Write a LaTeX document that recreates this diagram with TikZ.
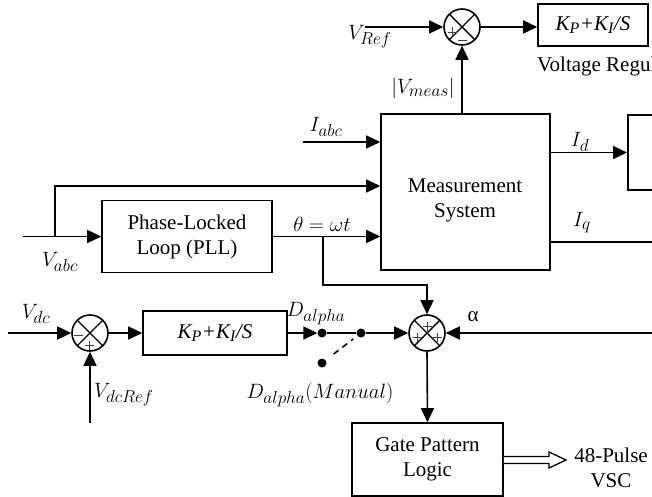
\documentclass[tikz,border=0pt]{standalone}
\usepackage{fontspec}
\setmainfont{Liberation Serif}
\DeclareMathSizes{21}{21}{16}{12}
\usetikzlibrary{arrows.meta,calc}
\begin{document}
\begin{tikzpicture}[x=1pt,y=-1pt,
  every node/.style={font=\fontsize{21}{25}\selectfont},
  ln/.style={line width=1.6pt},
  arr/.style={line width=1.6pt,-{Triangle[length=14pt,width=13pt]}},
  blk/.style={draw,line width=1.6pt,inner sep=0pt,align=center},
  sumc/.style={draw,circle,line width=1.6pt,minimum size=36pt,inner sep=0pt,
    path picture={\draw[line width=1.4pt] (path picture bounding box.north west)--(path picture bounding box.south east)
      (path picture bounding box.north east)--(path picture bounding box.south west);}},
  dotn/.style={circle,fill,inner sep=0pt,minimum size=9pt},
  lbl/.style={inner sep=0pt},
  sgn/.style={line width=0.9pt,black!75},
  pls/.pic={\draw[sgn] (-4.5,0)--(4.5,0) (0,-4.5)--(0,4.5);},
  mns/.pic={\draw[sgn] (-4.5,0)--(4.5,0);}
]
\clip (0,0) rectangle (652,497);

% summing junctions
\node[sumc] (sT) at (462,27) {};
\node[sumc] (sB) at (427,333) {};
\node[sumc] (sL) at (90,333) {};

% blocks
\node[blk,minimum width=110pt,minimum height=42pt] (vreg) at (593,25) {\itshape K\textsubscript{P}+K\textsubscript{I}/S};
\node[lbl,anchor=base west] (vregL) at (537,72) {Voltage Regul};
\node[blk,minimum width=169pt,minimum height=156pt] (meas) at (465.5,192) {};
\node[lbl,align=center] (measT) at (465,200) {Measurement\\System};
\node[blk,minimum width=170pt,minimum height=72pt] (pll) at (187,236.5) {Phase-Locked\\Loop (PLL)};
\node[blk,minimum width=144pt,minimum height=44pt] (pi) at (215,333) {\itshape K\textsubscript{P}+K\textsubscript{I}/S};
\node[blk,minimum width=151pt,minimum height=73pt] (gate) at (427.5,459.5) {Gate Pattern\\Logic};
\node[blk,minimum width=70pt,minimum height=75pt,anchor=west] (idb) at (627,152.5) {};

% switch dots
\node[dotn] (d1) at (322,333) {};
\node[dotn] (d2) at (361,333) {};
\node[dotn] (d3) at (322,363) {};

% free ends
\coordinate (vref) at (365,27);
\coordinate (iabc) at (303,142);
\coordinate (vin) at (23,236.5);
\coordinate (tap) at (55,236.5);
\coordinate (tapT) at (55,186);
\coordinate (thtap) at (323,236.5);
\coordinate (thc) at (427,285);
\coordinate (iqe) at (660,242);
\coordinate (vdc) at (8,333);
\coordinate (vdcr) at (90,423);
\coordinate (alph) at (660,333);

% connectors
\draw[arr] (vref) -- (sT.west);
\draw[arr] (sT.east) -- (sT.east -| vreg.west);
\draw[arr] (sT |- meas.north) -- (sT.south);
\draw[arr] (iabc) -- (iabc -| meas.west);
\draw[arr] (vin) -- (pll.west);
\draw[arr] (tap) -- (tapT) -- (tapT -| meas.west);
\draw[arr] (pll.east) -- (pll.east -| meas.west);
\draw[arr] (thtap) |- (thc) -- (sB.north);
\draw[arr] (meas.east |- idb.west) -- (idb.west);
\draw[ln] (meas.east |- iqe) -- (iqe);
\draw[arr] (vdc) -- (sL.west);
\draw[arr] (vdcr) -- (sL.south);
\draw[arr] (sL.east) -- (pi.west);
\draw[arr] (pi.east) -- (d1.west);
\draw[ln] (d1) -- (d2);
\draw[arr] (d2) -- (sB.west);
\draw[ln,dashed,dash pattern=on 6pt off 5pt] ($(d3)!0.3!(d2)$) -- ($(d3)!0.8!(d2)$);
\draw[arr] (alph) -- (sB.east);
\draw[arr] (sB.south) -- (gate.north);
\draw[line width=1.3pt,fill=white] (gate.east |- 0,456.5) -- (549,456.5) -- (549,452) -- (566,460)
  -- (549,468) -- (549,463.5) -- (gate.east |- 0,463.5);

% signs
\pic at ([shift={(-10,5)}]sT) {pls};
\pic at ([shift={(0,13)}]sT) {mns};
\pic at ([shift={(-12,2)}]sL) {mns};
\pic at ([shift={(-1,12)}]sL) {pls};
\pic at ([shift={(0,-7)}]sB) {pls};
\pic at ([shift={(-10,4)}]sB) {pls};
\pic at ([shift={(10,4)}]sB) {pls};

% labels
\node[lbl] (lvref) at (370,37) {$V_{Ref}$};
\node[lbl] (lvmeas) at (423,88) {$|V_{meas}|$};
\node[lbl] (liabc) at (326,127) {$I_{abc}$};
\node[lbl] (lvabc) at (60,262) {$V_{abc}$};
\node[lbl] (lth) at (322,224) {$\theta = \omega t$};
\node[lbl] (lid) at (580,142) {$I_d$};
\node[lbl] (liq) at (582,223) {$I_q$};
\node[lbl] (lvdc) at (36,314) {$V_{dc}$};
\node[lbl,anchor=west] (lvdcr) at (94,395) {$V_{dcRef}$};
\node[lbl] (lda) at (316,314) {$D_{alpha}$};
\node[lbl] (ldm) at (320,395) {$D_{alpha}(Manual)$};
\node[lbl] (lal) at (473,317) {α};
\node[lbl,align=center] (lvsc) at (611,468) {48-Pulse\\VSC};
\end{tikzpicture}
\end{document}
